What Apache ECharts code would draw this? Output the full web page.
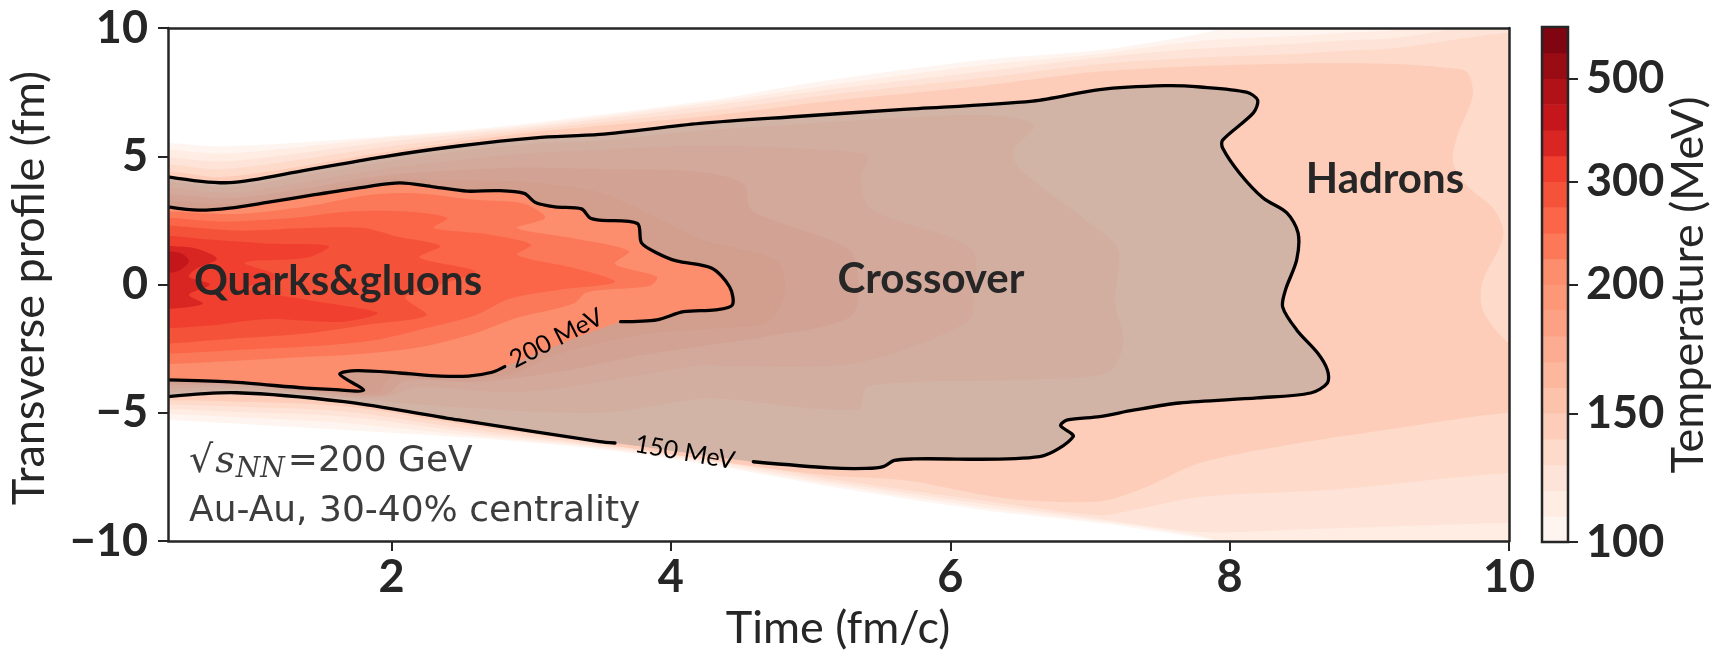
<!DOCTYPE html>
<html><head><meta charset="utf-8">
<script src="https://cdn.jsdelivr.net/npm/echarts@6/dist/echarts.min.js"></script>
<style>html,body{margin:0;padding:0;background:#fff;}#chart{width:1724px;height:656px;}</style>
</head><body><div id="chart"></div>
<script>
// ---------------- data ----------------
const levels = [100,110,120,130,140,150,160,170,180,190,200,225,250,275,300,350,400,450,500,550,600];
const colorbarTicks = [100,150,200,300,500];
const xTicks = [2,4,6,8,10];
const yTicks = [-10,-5,0,5,10];

// outer boundaries of the regions hotter than each level (x: fm/c, y: fm)
const level100 = [[0.4,5.52],[0.81,5.39],[1.9,5.75],[2.95,6.26],[4.3,7.2],[5.02,7.88],[6.23,8.75],[7.07,9.14],[7.79,9.78],[8.1,10.2],[8.4,10.6],[10.6,10.6],[10.6,-10.6],[8.3,-10.6],[7.95,-10.05],[7.79,-9.88],[7.07,-9.3],[6.23,-8.79],[5.14,-7.88],[4.3,-7.05],[3.49,-6.42],[2.5,-5.95],[1.66,-5.67],[0.81,-5.4],[0.4,-5.28]];
const level110 = [[0.4,5.25],[0.81,5.1],[1.94,5.7],[2.95,6.18],[4.32,7.12],[5.14,7.78],[6.23,8.55],[7.07,9.0],[7.8,9.5],[8.5,9.7],[9.0,9.85],[10.6,9.9],[10.6,-10.6],[9.0,-10.6],[8.0,-10.1],[7.79,-9.8],[7.07,-9.22],[6.23,-8.68],[5.14,-7.78],[4.3,-6.98],[3.49,-6.36],[2.5,-5.85],[1.66,-5.4],[0.81,-5.15],[0.4,-5.05]];
const level120 = [[0.4,4.95],[0.81,4.8],[1.94,5.55],[2.95,6.1],[4.32,7.0],[5.14,7.6],[6.23,8.3],[7.07,8.85],[7.8,9.2],[8.5,9.4],[9.0,9.55],[10.6,9.5],[10.6,-9.3],[10.0,-9.3],[8.5,-9.55],[7.8,-9.65],[7.07,-9.15],[6.23,-8.55],[5.14,-7.68],[4.3,-6.9],[3.49,-6.31],[2.5,-5.72],[1.66,-5.15],[0.81,-4.95],[0.4,-4.85]];
const level130 = [[0.4,4.68],[0.81,4.5],[1.94,5.35],[2.95,6.0],[4.32,6.8],[5.14,7.4],[6.23,8.05],[7.07,8.6],[7.8,8.85],[8.5,9.0],[9.0,9.15],[10.6,9.1],[10.6,-7.35],[10.0,-7.35],[8.74,-8.0],[7.79,-8.28],[7.3,-8.8],[7.07,-9.0],[6.23,-8.42],[5.14,-7.57],[4.3,-6.8],[3.49,-6.25],[2.5,-5.6],[1.66,-4.95],[0.81,-4.75],[0.4,-4.68]];
const level140 = [[0.4,4.42],[0.81,4.2],[1.94,5.15],[2.95,5.9],[4.32,6.6],[5.14,7.15],[6.23,7.75],[7.07,8.3],[7.8,8.52],[8.5,8.62],[9.2,8.6],[9.55,8.45],[9.7,8.27],[9.74,7.36],[9.63,5.8],[9.6,4.76],[9.7,3.85],[9.89,2.94],[9.96,1.9],[9.81,0.1],[9.81,-0.96],[9.94,-2.0],[10.05,-2.4],[10.6,-2.4],[10.6,-5.0],[10.0,-5.0],[9.2,-5.6],[8.51,-6.17],[7.79,-6.95],[7.4,-7.9],[7.07,-8.45],[6.5,-8.4],[6.23,-8.2],[5.7,-7.65],[5.14,-7.45],[4.6,-7.1],[3.49,-6.2],[2.5,-5.45],[1.66,-4.75],[0.81,-4.55],[0.4,-4.52]];
// 150 MeV contour (drawn in two pieces around its label)
const contour150a = [[0.4,4.2],[0.84,3.97],[1.39,4.46],[1.94,4.98],[2.48,5.4],[3.03,5.72],[3.49,5.85],[4.21,6.28],[4.9,6.55],[5.64,6.82],[6.59,7.15],[7.07,7.6],[7.54,7.75],[7.79,7.7],[8.12,7.5],[8.2,7.19],[8.17,6.69],[7.95,5.63],[7.95,5.32],[8.07,4.35],[8.24,3.37],[8.41,2.79],[8.49,2.01],[8.48,0.96],[8.4,-0.21],[8.38,-0.88],[8.48,-1.77],[8.63,-2.67],[8.7,-3.33],[8.7,-3.84],[8.58,-4.23],[8.2,-4.42],[7.64,-4.62],[7.31,-4.9],[7.07,-5.15],[6.84,-5.28],[6.79,-5.5],[6.88,-5.93],[6.64,-6.71],[5.74,-6.8],[5.6,-6.86],[5.52,-7.1],[5.4,-7.17],[5.14,-7.15],[4.59,-6.91]];
const contour150b = [[3.6,-6.18],[3.49,-6.13],[2.48,-5.28],[1.66,-4.57],[0.89,-4.22],[0.4,-4.37]];
const level160 = [[0.4,4.02],[0.84,3.8],[1.39,4.28],[1.94,4.78],[2.48,5.2],[3.03,5.5],[3.49,5.62],[4.21,6.0],[4.9,6.25],[5.64,6.5],[6.3,6.6],[6.6,6.2],[6.45,5.2],[6.5,4.5],[6.96,2.55],[7.2,1.38],[7.18,-0.69],[7.24,-2.26],[7.13,-3.43],[6.6,-3.7],[5.41,-3.97],[5.34,-4.87],[4.41,-4.48],[4.21,-4.45],[3.5,-5.0],[2.48,-4.8],[1.66,-4.42],[0.89,-4.08],[0.4,-4.22]];
const level170 = [[0.4,3.78],[0.84,3.58],[1.39,4.0],[1.94,4.5],[2.48,4.85],[2.95,5.1],[3.49,5.25],[4.21,5.41],[4.9,5.3],[5.41,5.02],[5.36,4.24],[5.43,2.95],[6.15,1.38],[6.17,-0.46],[6.12,-1.47],[5.34,-3.04],[4.41,-3.19],[4.21,-3.15],[3.6,-3.7],[2.9,-4.2],[2.2,-4.0],[1.95,-4.4],[1.5,-4.3],[0.89,-3.98],[0.4,-4.05]];
const level180 = [[0.4,3.52],[0.84,3.36],[1.39,3.75],[1.94,4.25],[2.48,4.45],[2.95,4.55],[3.49,4.5],[4.21,4.39],[4.52,3.92],[4.57,2.94],[4.77,2.44],[5.27,1.38],[5.34,0.32],[5.29,-1.24],[4.69,-2.02],[4.21,-2.41],[3.8,-2.75],[3.2,-3.4],[2.6,-3.8],[2.1,-3.75],[1.95,-4.3],[1.5,-4.2],[0.89,-3.9],[0.4,-3.92]];
const level190 = [[0.4,3.26],[0.84,3.16],[1.39,3.55],[1.94,4.1],[2.48,4.05],[2.95,4.0],[3.49,3.6],[3.9,2.6],[4.21,1.77],[4.77,0.87],[4.81,-0.46],[4.69,-1.47],[4.21,-1.75],[3.8,-1.95],[3.2,-2.7],[2.85,-3.5],[2.3,-3.7],[2.0,-3.6],[1.9,-4.22],[1.5,-4.15],[0.89,-3.85],[0.4,-3.82]];
// 200 MeV contour (two pieces around its label)
const contour200a = [[0.4,3.03],[0.62,2.9],[0.84,2.98],[1.11,3.2],[1.45,3.5],[1.82,3.81],[2.06,3.96],[2.3,3.81],[2.54,3.64],[2.76,3.66],[2.95,3.55],[3.03,3.2],[3.17,3.03],[3.36,2.95],[3.42,2.6],[3.49,2.51],[3.76,2.38],[3.79,1.62],[3.9,1.23],[4.04,0.92],[4.29,0.64],[4.42,-0.09],[4.44,-0.8],[4.32,-0.99],[4.09,-1.06],[3.9,-1.38],[3.64,-1.45]];
const contour200b = [[2.81,-3.2],[2.72,-3.42],[2.55,-3.57],[2.35,-3.57],[2.06,-3.45],[1.75,-3.36],[1.63,-3.5],[1.8,-4.12],[1.6,-4.1],[1.39,-4.04],[0.84,-3.8],[0.4,-3.72]];
const level225 = [[0.4,2.85],[0.9,2.75],[1.4,3.05],[1.85,3.5],[2.2,3.55],[2.6,3.3],[2.95,3.15],[3.1,2.6],[2.9,2.2],[3.3,1.8],[3.7,1.3],[3.6,0.8],[3.9,0.3],[3.85,-0.05],[3.4,-0.3],[3.3,-0.75],[2.9,-1.3],[2.6,-1.9],[2.2,-2.45],[1.8,-2.7],[1.3,-2.85],[0.8,-3.0],[0.4,-3.1]];
const level250 = [[0.4,2.6],[0.8,2.45],[1.3,2.6],[1.7,2.85],[2.1,2.85],[2.4,2.6],[2.3,2.2],[2.7,1.95],[3.0,1.55],[2.9,1.15],[3.3,0.65],[3.6,0.1],[3.2,-0.2],[2.85,-0.55],[2.6,-1.2],[2.25,-1.7],[1.9,-2.15],[1.45,-2.4],[0.9,-2.55],[0.4,-2.7]];
const level275 = [[0.4,2.3],[0.9,2.1],[1.4,2.2],[1.8,2.2],[2.05,1.85],[2.35,1.5],[2.2,1.05],[2.6,0.5],[2.35,0.0],[2.1,-0.5],[2.25,-1.2],[1.85,-1.55],[1.4,-1.9],[0.9,-2.1],[0.4,-2.3]];
const level300 = [[0.4,1.9],[0.7,1.75],[1.1,1.6],[1.55,1.5],[1.4,1.05],[0.95,0.85],[1.2,0.3],[0.95,-0.15],[1.4,-0.6],[1.9,-1.1],[1.65,-1.45],[1.1,-1.35],[0.7,-1.6],[0.4,-1.7]];
const level350 = [[0.4,1.5],[0.6,1.4],[0.75,1.0],[0.6,0.6],[0.55,0.3],[0.7,0.0],[0.55,-0.4],[0.65,-0.75],[0.4,-0.95]];
const level400 = [[0.4,1.3],[0.5,1.2],[0.55,0.9],[0.48,0.55],[0.4,0.45]];

const contourLabels = [
  {text: '150 MeV', at: [4.1, -6.55], angle: -10},
  {text: '200 MeV', at: [3.18, -2.1], angle: 27}
];

// ---------------- styling helpers ----------------
const AX = '#262626';
const SMOOTH = 0.3;
const redsStops = [[255,245,240],[254,224,210],[252,187,161],[252,146,114],[251,106,74],[239,59,44],[203,24,29],[165,15,21],[103,0,13]];
function reds(t) {
  t = Math.max(0, Math.min(1, t));
  const s = t * 8, i = Math.min(7, Math.floor(s)), f = s - i;
  const a = redsStops[i], b = redsStops[i + 1];
  return 'rgb(' + [0,1,2].map(k => Math.round(a[k] + (b[k] - a[k]) * f)).join(',') + ')';
}
function levelColor(L) { return reds(Math.log(L / 100) / Math.log(6)); }
function withOutside(poly) {
  return [[0.05, poly[0][1]]].concat(poly, [[0.05, poly[poly.length - 1][1]]]);
}
let zc = 2;
function polygonSeries(poly, fill) {
  const pts = withOutside(poly);
  return {
    type: 'custom', xAxisIndex: 0, yAxisIndex: 0, clip: true, silent: true, animation: false,
    z: zc++, data: [0],
    renderItem: (params, api) => ({
      type: 'polygon',
      shape: {points: pts.map(p => api.coord(p)), smooth: SMOOTH},
      style: {fill: fill}
    })
  };
}
function lineSeries(pts) {
  return {
    type: 'custom', xAxisIndex: 0, yAxisIndex: 0, clip: true, silent: true, animation: false,
    z: 30, data: [0],
    renderItem: (params, api) => ({
      type: 'polyline',
      shape: {points: pts.map(p => api.coord(p)), smooth: SMOOTH},
      style: {stroke: '#000', lineWidth: 3.3, fill: null, lineJoin: 'round', lineCap: 'round'}
    })
  };
}

const series = [];
[[level100,100],[level110,110],[level120,120],[level130,130],[level140,140]].forEach(([p,L]) => series.push(polygonSeries(p, levelColor(L))));
series.push(polygonSeries(contour150a.concat(contour150b), levelColor(150)));
[[level160,160],[level170,170],[level180,180],[level190,190]].forEach(([p,L]) => series.push(polygonSeries(p, levelColor(L))));
series.push(polygonSeries(contour150a.concat(contour150b), 'rgba(165,165,165,0.48)'));
series.push(polygonSeries(contour200a.concat(contour200b), levelColor(200)));
[[level225,225],[level250,250],[level275,275],[level300,300],[level350,350],[level400,400]].forEach(([p,L]) => series.push(polygonSeries(p, levelColor(L))));
[contour150a, contour150b, contour200a, contour200b].forEach(c => series.push(lineSeries(c)));
series.push({
  type: 'custom', xAxisIndex: 0, yAxisIndex: 0, silent: true, animation: false, z: 31,
  data: contourLabels.map((d, i) => i),
  renderItem: (params, api) => {
    const d = contourLabels[params.dataIndex];
    const c = api.coord(d.at);
    return {type: 'text', x: c[0], y: c[1], rotation: d.angle * Math.PI / 180,
      style: {text: d.text, fontSize: 25, fontFamily: 'Lato', fill: '#000', align: 'center', verticalAlign: 'middle'}};
  }
});
// colorbar cells
series.push({
  type: 'custom', xAxisIndex: 2, yAxisIndex: 2, silent: true, animation: false, z: 5,
  data: levels.slice(0, -1).map((L, i) => i),
  renderItem: (params, api) => {
    const i = params.dataIndex;
    const p0 = api.coord([0, i]), p1 = api.coord([1, i + 1]);
    return {type: 'rect', shape: {x: p0[0], y: p1[1], width: p1[0] - p0[0], height: p0[1] - p1[1] + 0.5},
      style: {fill: levelColor(levels[i])}};
  }
});
series.push({
  type: 'custom', xAxisIndex: 2, yAxisIndex: 2, silent: true, animation: false, z: 40,
  data: [0],
  renderItem: (params, api) => {
    const p0 = api.coord([0, 0]), p1 = api.coord([1, levels.length - 1]);
    return {type: 'rect', shape: {x: p0[0], y: p1[1], width: p1[0] - p0[0], height: p0[1] - p1[1]},
      style: {fill: null, stroke: AX, lineWidth: 2.5}};
  }
});

const lineStyle = {color: AX, width: 2.5};
const tickLabel = {fontSize: 45, fontWeight: 'bold', fontFamily: 'Lato', color: AX};
const cbTickIdx = colorbarTicks.map(t => levels.indexOf(t));

const option = {
  animation: false,
  backgroundColor: '#fff',
  grid: [
    {left: 168, top: 28, width: 1341, height: 513},
    {left: 1542, top: 27, width: 26, height: 515}
  ],
  xAxis: [
    {gridIndex: 0, type: 'value', min: 0.4, max: 10, position: 'bottom', z: 50,
      axisLine: {show: true, onZero: false, lineStyle: lineStyle},
      axisTick: {show: true, inside: false, length: 10, lineStyle: {color: AX, width: 2}, customValues: xTicks},
      axisLabel: Object.assign({customValues: xTicks, margin: 14}, tickLabel),
      splitLine: {show: false}},
    {gridIndex: 0, type: 'value', min: 0.4, max: 10, position: 'top', z: 50,
      axisLine: {show: true, onZero: false, lineStyle: lineStyle},
      axisTick: {show: false}, axisLabel: {show: false}, splitLine: {show: false}},
    {gridIndex: 1, type: 'value', min: 0, max: 1, show: false}
  ],
  yAxis: [
    {gridIndex: 0, type: 'value', min: -10, max: 10, interval: 5, position: 'left', z: 50,
      axisLine: {show: true, onZero: false, lineStyle: lineStyle},
      axisTick: {show: true, inside: false, length: 10, lineStyle: {color: AX, width: 2}, customValues: yTicks},
      axisLabel: Object.assign({customValues: yTicks, margin: 20,
        formatter: v => (v < 0 ? '\u2212' + Math.abs(v) : String(v))}, tickLabel),
      splitLine: {show: false}},
    {gridIndex: 0, type: 'value', min: -10, max: 10, position: 'right', z: 50,
      axisLine: {show: true, onZero: false, lineStyle: lineStyle},
      axisTick: {show: false}, axisLabel: {show: false}, splitLine: {show: false}},
    {gridIndex: 1, type: 'value', min: 0, max: levels.length - 1, position: 'right', z: 50,
      axisLine: {show: false, onZero: false},
      axisTick: {show: true, inside: false, length: 10, lineStyle: {color: AX, width: 2}, customValues: cbTickIdx},
      axisLabel: Object.assign({customValues: cbTickIdx, margin: 18, formatter: v => String(levels[v])}, tickLabel),
      splitLine: {show: false}}
  ],
  graphic: [
    {type: 'text', x: 838, y: 628, style: {text: 'Time (fm/c)', fontSize: 45, fontFamily: 'Lato', fill: AX, align: 'center', verticalAlign: 'middle'}},
    {type: 'text', x: 29, y: 288, rotation: Math.PI / 2, style: {text: 'Transverse profile (fm)', fontSize: 45, fontFamily: 'Lato', fill: AX, align: 'center', verticalAlign: 'middle'}},
    {type: 'text', x: 1688, y: 285, rotation: Math.PI / 2, style: {text: 'Temperature (MeV)', fontSize: 45, fontFamily: 'Lato', fill: AX, align: 'center', verticalAlign: 'middle'}},
    {type: 'text', x: 338, y: 281, z: 60, style: {text: 'Quarks&gluons', fontSize: 42, fontWeight: 'bold', fontFamily: 'Lato', fill: AX, align: 'center', verticalAlign: 'middle'}},
    {type: 'text', x: 931, y: 279, z: 60, style: {text: 'Crossover', fontSize: 42, fontWeight: 'bold', fontFamily: 'Lato', fill: AX, align: 'center', verticalAlign: 'middle'}},
    {type: 'text', x: 1385, y: 179, z: 60, style: {text: 'Hadrons', fontSize: 42, fontWeight: 'bold', fontFamily: 'Lato', fill: AX, align: 'center', verticalAlign: 'middle'}},
    {type: 'text', x: 189, y: 462, z: 60, style: {
      text: '{r|\u221A}{s|s}{n|NN}{t|=200 GeV}', align: 'left', verticalAlign: 'middle',
      rich: {
        r: {fontSize: 38, fontFamily: 'DejaVu Sans', fill: '#3d3d3d', lineHeight: 44},
        s: {fontSize: 38, fontFamily: 'DejaVu Serif', fontStyle: 'italic', fill: '#3d3d3d', lineHeight: 44, padding: [0, 1, 0, 2]},
        n: {fontSize: 28, fontFamily: 'DejaVu Serif', fontStyle: 'italic', fill: '#3d3d3d', lineHeight: 20, verticalAlign: 'bottom', padding: [0, 3, 0, 0]},
        t: {fontSize: 36, fontFamily: 'DejaVu Sans', fill: '#3d3d3d', lineHeight: 44}
      }}},
    {type: 'text', x: 189, y: 512, z: 60, style: {text: 'Au-Au, 30-40% centrality', fontSize: 36, fontFamily: 'DejaVu Sans', fill: '#3d3d3d', align: 'left', verticalAlign: 'middle'}}
  ],
  series: series
};
const chart = echarts.init(document.getElementById('chart'), null, {renderer: 'canvas'});
chart.setOption(option);
</script>
</body></html>
